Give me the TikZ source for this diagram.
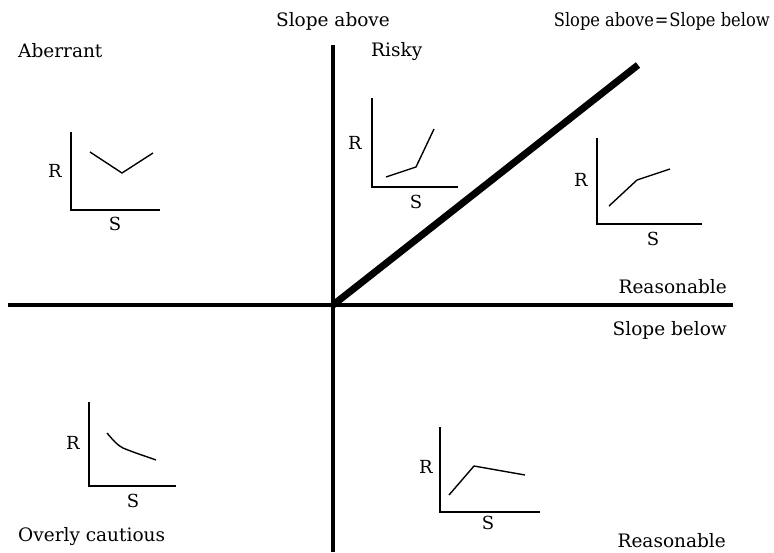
\documentclass[tikz,border=0pt]{standalone}
\usepackage{fontspec}
\setmainfont{DejaVu Serif}
\begin{document}
\begin{tikzpicture}[x=1pt,y=-1pt,
  lbl/.style={inner sep=0pt, font=\fontsize{18.5}{21}\selectfont},
  small/.style={inner sep=0pt, font=\fontsize{18}{20}\selectfont},
  mainaxis/.style={line width=4pt},
  diag/.style={line width=7pt},
  miniaxis/.style={line width=2.4pt},
  curve/.style={line width=1.4pt, line join=round}]
\useasboundingbox (0,0) rectangle (774,552);
% main axes
\coordinate (O) at (333,305);
\coordinate (L) at (8,305);
\coordinate (Rt) at (733,305);
\coordinate (T) at (333,45);
\coordinate (B) at (333,552);
\coordinate (D) at (638,65);
\draw[mainaxis] (L) -- (Rt);
\draw[mainaxis] (T) -- (B);
\draw[diag] (O) -- (D);
% labels
\node[lbl] (sa) at (333,21) {Slope above};
\node[lbl, anchor=west] (ab) at (18,51) {Aberrant};
\node[lbl, anchor=west] (ri) at (371,52) {Risky};
\node[lbl, anchor=east] (eq) at (770,21) {\scalebox{0.88}[1]{Slope above\kern1pt=\kern1pt Slope below}};
\node[lbl, anchor=east] (re1) at (727,287) {Reasonable};
\node[lbl, anchor=east] (sb) at (727,330) {Slope below};
\node[lbl, anchor=west] (oc) at (18,537) {Overly cautious};
\node[lbl, anchor=east] (re2) at (726,541) {Reasonable};
% mini chart 1 (Aberrant)
\draw[miniaxis] (71,132) -- (71,210) -- (160,210);
\node[small] (r1) at (55,171) {R};
\node[small] (s1) at (115,224) {S};
\draw[curve] (90,152) -- (122,173) -- (153,153);
% mini chart 2 (Risky)
\draw[miniaxis] (372,98) -- (372,187) -- (458,187);
\node[small] (r2) at (355,143) {R};
\node[small] (s2) at (416,202) {S};
\draw[curve] (386,177) -- (416,167) -- (434,129);
% mini chart 3 (Reasonable upper)
\draw[miniaxis] (597,138) -- (597,224) -- (702,224);
\node[small] (r3) at (581,180) {R};
\node[small] (s3) at (653,239) {S};
\draw[curve] (609,206) -- (637,180) -- (670,169);
% mini chart 4 (Overly cautious)
\draw[miniaxis] (89,402) -- (89,486) -- (176,486);
\node[small] (r4) at (73,443) {R};
\node[small] (s4) at (133,501) {S};
\draw[curve] (107,433) .. controls (113,440) and (117,445) .. (123,448) .. controls (135,453) and (145,456) .. (156,460);
% mini chart 5 (Reasonable lower)
\draw[miniaxis] (440,427) -- (440,512) -- (540,512);
\node[small] (r5) at (426,467) {R};
\node[small] (s5) at (488,523) {S};
\draw[curve] (449,495) -- (474,466) -- (525,475);
\end{tikzpicture}
\end{document}
